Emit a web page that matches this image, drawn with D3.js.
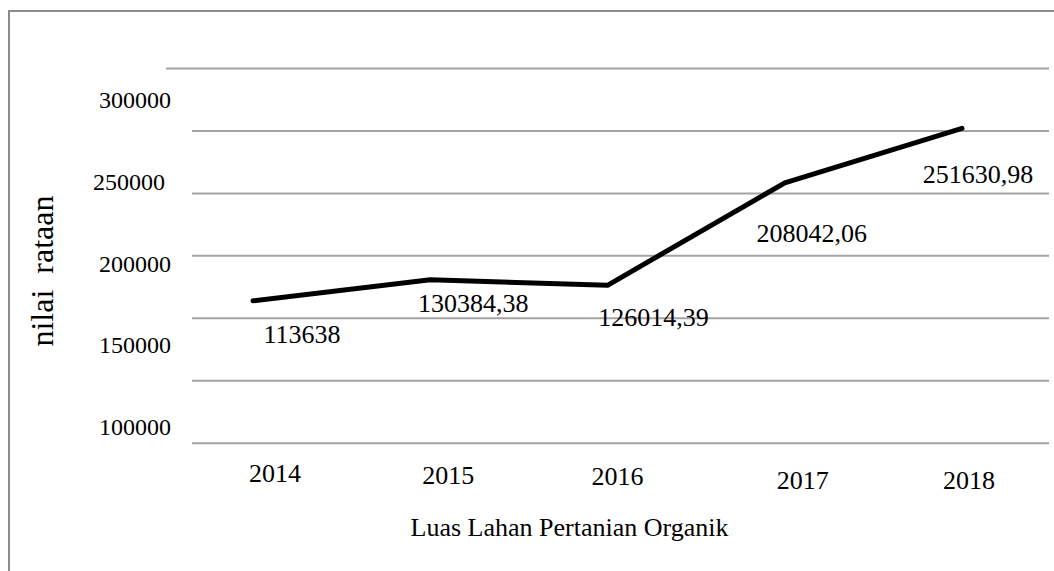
<!DOCTYPE html>
<html>
<head>
<meta charset="utf-8">
<script src="https://cdn.jsdelivr.net/npm/d3@7"></script>
<style>
  body { margin: 0; background: #fff; }
  text { font-family: "Liberation Serif", "Times New Roman", serif; fill: #000; }
</style>
</head>
<body>
<svg id="chart" width="1054" height="571"></svg>
<script>
// data
const years = ["2014", "2015", "2016", "2017", "2018"];
const values = [113638, 130384.38, 126014.39, 208042.06, 251630.98];
const gridTicks = [0, 50000, 100000, 150000, 200000, 250000, 300000];
const yTickLabels = [300000, 250000, 200000, 150000, 100000];
const xTitle = "Luas Lahan Pertanian Organik";
const yTitle = "nilai  rataan";

// small layout nudges (the original has hand-placed text boxes)
const valueLabelNudge = [[49, 33], [43, 23], [46, 32], [27, 50], [16, 46]];
const yearLabelNudge = [[1, 0], [0, 2.5], [-5, 3], [6, 7], [-2, 7.5]];
const yTickLabelNudge = [0, -6, 0, 0, 0];

let w = 1054, h = 571;
let svg = d3.select("#chart");

// border of the chart area
svg.append("rect")
  .attr("x", 9).attr("y", 11)
  .attr("width", w + 20).attr("height", h + 20)
  .attr("fill", "none")
  .attr("stroke", "#8c8c8c")
  .attr("stroke-width", 2);

let plotLeft = 192, plotRight = 1049;

let y = d3.scaleLinear()
  .domain([0, 300000])
  .range([442.7, 68]);

let yLabelScale = d3.scaleLinear()
  .domain([100000, 300000])
  .range([426.7, 100]);

let xLine = d3.scalePoint().domain(years).range([253, 962]);
let xLabel = d3.scalePoint().domain(years).range([274, 971]);

// gridlines
let grid = svg.append("g")
  .attr("transform", "translate(" + plotRight + ",0)")
  .call(d3.axisLeft(y)
    .tickValues(gridTicks)
    .tickSize(plotRight - plotLeft)
    .tickFormat(""));
grid.select(".domain").remove();
grid.selectAll(".tick line")
  .attr("stroke", "#a3a3a3")
  .attr("stroke-width", 2)
  .attr("x2", function(d) {
    // top gridline reaches further left in the original
    return d === 300000 ? -(plotRight - 166) : -(plotRight - plotLeft);
  });

// y tick labels (offset from the gridlines, as in the original)
svg.selectAll(".ylab")
  .data(yTickLabels)
  .enter()
  .append("text")
  .attr("class", "ylab")
  .attr("x", function(d, i) { return 171 + yTickLabelNudge[i]; })
  .attr("y", function(d) { return yLabelScale(d); })
  .attr("dy", "0.34em")
  .attr("text-anchor", "end")
  .attr("font-size", "24px")
  .text(function(d) { return d; });

// the line
let line = d3.line()
  .x(function(d, i) { return xLine(years[i]); })
  .y(function(d) { return y(d); });

svg.append("path")
  .datum(values)
  .attr("d", line)
  .attr("fill", "none")
  .attr("stroke", "#000")
  .attr("stroke-width", 5)
  .attr("stroke-linecap", "round")
  .attr("stroke-linejoin", "round");

// value labels
function fmt(v) {
  return Number.isInteger(v) ? String(v) : v.toFixed(2).replace(".", ",");
}

svg.selectAll(".vlab")
  .data(values)
  .enter()
  .append("text")
  .attr("class", "vlab")
  .attr("x", function(d, i) { return xLine(years[i]) + valueLabelNudge[i][0]; })
  .attr("y", function(d, i) { return y(d) + valueLabelNudge[i][1]; })
  .attr("dy", "0.34em")
  .attr("text-anchor", "middle")
  .attr("font-size", "26px")
  .text(function(d) { return fmt(d); });

// x category labels
svg.selectAll(".xlab")
  .data(years)
  .enter()
  .append("text")
  .attr("class", "xlab")
  .attr("x", function(d, i) { return xLabel(d) + yearLabelNudge[i][0]; })
  .attr("y", function(d, i) { return 473 + yearLabelNudge[i][1]; })
  .attr("dy", "0.34em")
  .attr("text-anchor", "middle")
  .attr("font-size", "26px")
  .text(function(d) { return d; });

// axis titles
svg.append("text")
  .attr("x", 569.5)
  .attr("y", 526.7)
  .attr("dy", "0.34em")
  .attr("text-anchor", "middle")
  .attr("font-size", "26px")
  .text(xTitle);

svg.append("text")
  .attr("transform", "translate(53,271) rotate(-90)")
  .attr("text-anchor", "middle")
  .attr("font-size", "32px")
  .style("white-space", "pre")
  .text(yTitle);
</script>
</body>
</html>
